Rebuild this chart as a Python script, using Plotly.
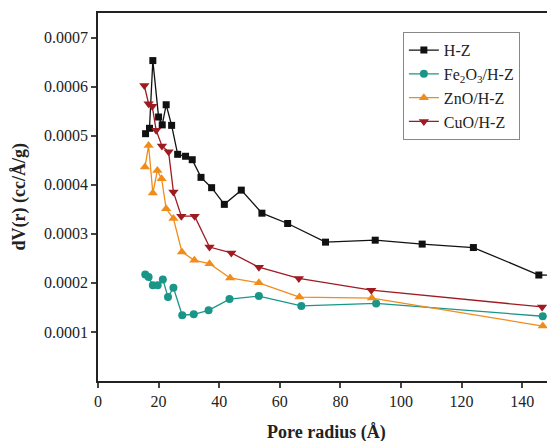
import plotly.graph_objects as go

hz_x = [15.7, 17.0, 18.1, 20.0, 21.2, 22.5, 24.3, 26.3, 28.9, 31.1, 34.0, 37.5, 41.7, 47.3, 54.1, 62.6, 75.1, 91.5, 107.0, 123.9, 145.5, 160.0]
hz_y = [0.000504, 0.000515, 0.000653, 0.000538, 0.000522, 0.000563, 0.000521, 0.000462, 0.000458, 0.000451, 0.000415, 0.000394, 0.000360, 0.000389, 0.000342, 0.000321, 0.000283, 0.000287, 0.000279, 0.000272, 0.000216, 0.000214]

fe_x = [15.6, 16.7, 18.1, 19.7, 21.4, 23.1, 24.9, 27.8, 31.6, 36.5, 43.4, 53.1, 67.1, 91.8, 146.8]
fe_y = [0.000217, 0.000212, 0.000195, 0.000195, 0.000207, 0.000171, 0.000190, 0.000134, 0.000136, 0.000144, 0.000167, 0.000173, 0.000153, 0.000158, 0.000132]

zn_x = [15.5, 16.7, 18.1, 19.6, 21.0, 22.5, 24.9, 27.7, 31.8, 36.8, 43.6, 53.1, 66.5, 90.4, 146.8]
zn_y = [0.000436, 0.000480, 0.000383, 0.000429, 0.000412, 0.000351, 0.000331, 0.000263, 0.000246, 0.000239, 0.000210, 0.000200, 0.000171, 0.000169, 0.000112]

cu_x = [15.3, 16.7, 17.9, 19.2, 21.1, 23.3, 24.9, 27.5, 31.9, 36.8, 44.0, 53.1, 66.3, 90.2, 146.6]
cu_y = [0.000602, 0.000565, 0.000560, 0.000511, 0.000479, 0.000467, 0.000385, 0.000336, 0.000336, 0.000273, 0.000261, 0.000232, 0.000209, 0.000185, 0.000151]

x_ticks = [0, 20, 40, 60, 80, 100, 120, 140]
y_ticks = [0.0001, 0.0002, 0.0003, 0.0004, 0.0005, 0.0006, 0.0007]
y_labels = ["0.0001", "0.0002", "0.0003", "0.0004", "0.0005", "0.0006", "0.0007"]

series = [
    ("H-Z", hz_x, hz_y, "#111111", "square", 7),
    ("Fe<sub>2</sub>O<sub>3</sub>/H-Z", fe_x, fe_y, "#1a9688", "circle", 8),
    ("ZnO/H-Z", zn_x, zn_y, "#f08c1a", "triangle-up", 9),
    ("CuO/H-Z", cu_x, cu_y, "#9e1b22", "triangle-down", 9),
]

fig = go.Figure()
for name, xs, ys, col, sym, sz in series:
    fig.add_trace(go.Scatter(
        x=xs, y=ys, name=name, mode="lines+markers",
        line=dict(color=col, width=1.3),
        marker=dict(color=col, symbol=sym, size=sz),
    ))

font_family = "Liberation Serif"
fig.update_layout(
    width=547, height=441,
    margin=dict(l=98, r=0, t=13, b=60),
    paper_bgcolor="white", plot_bgcolor="white",
    font=dict(family=font_family, size=16, color="#222"),
    showlegend=True,
    legend=dict(
        x=0.679, y=0.948, xanchor="left", yanchor="top",
        bgcolor="white", bordercolor="#888", borderwidth=1,
        font=dict(family=font_family, size=16, color="#222"),
        tracegroupgap=0,
    ),
    xaxis=dict(
        range=[0, 148.2], tickvals=x_ticks, ticks="outside", ticklen=5, tickwidth=1.5,
        showline=True, linecolor="#222", linewidth=1.5, mirror=True,
        showgrid=False, zeroline=False, automargin=False,
    ),
    yaxis=dict(
        range=[0, 0.00075], tickvals=y_ticks, ticktext=y_labels, ticks="outside", ticklen=5, tickwidth=1.5,
        showline=True, linecolor="#222", linewidth=1.5, mirror=False,
        showgrid=False, zeroline=False, automargin=False,
    ),
    annotations=[
        dict(text="<b>Pore radius (Å)</b>", xref="paper", yref="paper", x=0.51, y=-0.14,
             xanchor="center", yanchor="middle", showarrow=False,
             font=dict(family=font_family, size=18, color="#222")),
        dict(text="<b>dV(r) (cc/Å/g)</b>", xref="paper", yref="paper", x=-0.175, y=0.5,
             xanchor="center", yanchor="middle", showarrow=False, textangle=-90,
             font=dict(family=font_family, size=18, color="#222")),
    ],
)

fig.write_html("out.html", config={"displayModeBar": False},
               post_script="document.body.style.margin='0';document.body.style.overflow='hidden';")
